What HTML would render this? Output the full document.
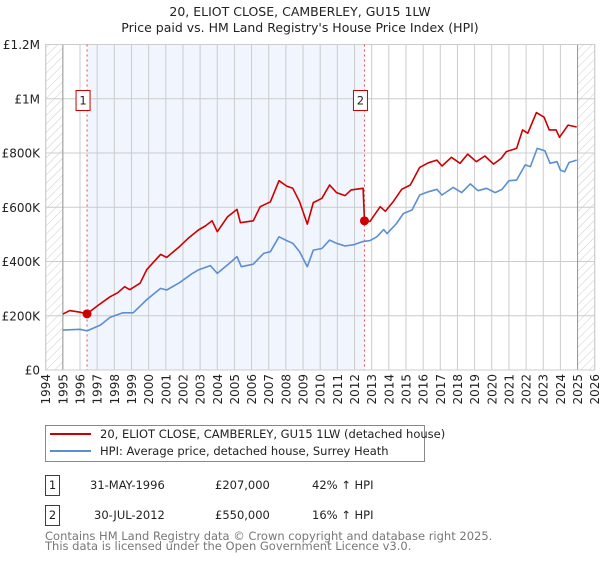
<!DOCTYPE html>
<html><head><meta charset="utf-8"><style>
body{margin:0;background:#fff;font-family:"DejaVu Sans","Liberation Sans",sans-serif;}
svg text{font-family:"DejaVu Sans","Liberation Sans",sans-serif;}
</style></head><body>
<svg id="c" width="600" height="560" viewBox="0 0 600 560" xmlns="http://www.w3.org/2000/svg">
<defs><pattern id="hatch" width="6" height="6" patternUnits="userSpaceOnUse" patternTransform="rotate(45)"><line x1="0" y1="0" x2="0" y2="6" stroke="#ccc" stroke-width="1"/></pattern></defs>
<text x="300" y="16" text-anchor="middle" font-size="12.5" fill="#222">20, ELIOT CLOSE, CAMBERLEY, GU15 1LW</text>
<text x="300" y="32" text-anchor="middle" font-size="12.5" fill="#222">Price paid vs. HM Land Registry's House Price Index (HPI)</text>
<g id="plot"></g>
<g>
<rect x="45.5" y="425.5" width="379" height="36" fill="#fff" stroke="#888"/>
<line x1="50" y1="434" x2="91" y2="434" stroke="#cc0000" stroke-width="2"/>
<text x="100" y="438" font-size="11.5" fill="#222">20, ELIOT CLOSE, CAMBERLEY, GU15 1LW (detached house)</text>
<line x1="50" y1="451" x2="91" y2="451" stroke="#5b8fd1" stroke-width="2"/>
<text x="100" y="455" font-size="11.5" fill="#222">HPI: Average price, detached house, Surrey Heath</text>
</g>
<g font-size="11.5" fill="#222">
<rect x="45.5" y="475.5" width="14" height="20" fill="#fff" stroke="#cc0000"/>
<text x="52.5" y="489" text-anchor="middle">1</text>
<text x="90" y="489">31-MAY-1996</text>
<text x="215" y="489">£207,000</text>
<text x="312" y="489">42% ↑ HPI</text>
<rect x="45.5" y="505.5" width="14" height="20" fill="#fff" stroke="#cc0000"/>
<text x="52.5" y="519" text-anchor="middle">2</text>
<text x="94" y="519">30-JUL-2012</text>
<text x="215" y="519">£550,000</text>
<text x="312" y="519">16% ↑ HPI</text>
</g>
<text x="45" y="540" font-size="11.5" fill="#777">Contains HM Land Registry data © Crown copyright and database right 2025.</text>
<text x="45" y="550" font-size="11.5" fill="#777">This data is licensed under the Open Government Licence v3.0.</text>
</svg>
<script>
const yearTicks=[1994,1995,1996,1997,1998,1999,2000,2001,2002,2003,2004,2005,2006,2007,2008,2009,2010,2011,2012,2013,2014,2015,2016,2017,2018,2019,2020,2021,2022,2023,2024,2025,2026];
const priceTicks=[0,200000,400000,600000,800000,1000000,1200000];
const priceTickLabels=["£0","£200K","£400K","£600K","£800K","£1M","£1.2M"];
const saleDates=[1996.41,2012.58];
const salePrices=[207000,550000];
const saleLabels=["1","2"];
const redYears=[1995,1995.4,1996,1996.41,1997,1997.75,1998.2,1998.6,1998.9,1999.5,1999.9,2000.7,2001.05,2001.8,2002.3,2002.9,2003.3,2003.7,2004.0,2004.6,2005.15,2005.35,2006.1,2006.5,2007.1,2007.6,2008.05,2008.4,2008.8,2009.25,2009.6,2010.1,2010.55,2010.95,2011.45,2011.8,2012.5,2012.58,2012.9,2013.5,2013.8,2014.25,2014.75,2015.25,2015.8,2016.3,2016.8,2017.1,2017.65,2018.15,2018.6,2019.1,2019.6,2020.1,2020.55,2020.85,2021.45,2021.8,2022.1,2022.6,2023.05,2023.35,2023.75,2023.95,2024.25,2024.45,2024.95];
const redValues=[206,219,213,207,236,270,285,307,296,320,371,426,415,455,485,516,531,550,510,565,592,543,550,602,620,698,678,670,620,538,617,633,682,654,643,664,670,550,548,602,585,620,666,682,747,764,774,752,784,762,796,768,789,759,780,805,817,885,873,949,932,885,885,858,885,903,896];
const blueYears=[1995,1996,1996.41,1997.2,1997.75,1998.5,1999.1,1999.9,2000.7,2001.05,2001.8,2002.55,2002.9,2003.6,2004.0,2004.7,2005.15,2005.4,2006.1,2006.7,2007.1,2007.6,2008.05,2008.4,2008.8,2009.25,2009.6,2010.1,2010.55,2010.95,2011.45,2011.95,2012.45,2012.9,2013.3,2013.7,2013.9,2014.45,2014.85,2015.35,2015.8,2016.3,2016.8,2017.1,2017.75,2018.25,2018.75,2019.2,2019.7,2020.2,2020.6,2021.0,2021.45,2021.95,2022.25,2022.65,2023.1,2023.4,2023.8,2024.0,2024.25,2024.5,2024.95];
const blueValues=[147,150,144,166,194,211,211,260,301,295,322,356,369,385,356,393,418,381,390,430,436,491,477,467,436,381,442,448,479,467,457,462,473,477,491,518,503,540,577,590,645,657,666,645,673,654,686,661,670,654,666,698,700,756,750,817,808,762,768,737,731,765,774];

const NS="http://www.w3.org/2000/svg";
const L=45.7,R=594.7,T=44.5,B=370;
const xs=y=>L+(y-1994)*(R-L)/32;
const ys=v=>B-v*(B-T)/1200000;
const g=document.getElementById('plot');
function mk(tag,attrs,parent){const e=document.createElementNS(NS,tag);for(const k in attrs)e.setAttribute(k,attrs[k]);(parent||g).appendChild(e);return e;}
let e;
e=mk('rect',{x:xs(saleDates[0]),y:T,width:xs(saleDates[1])-xs(saleDates[0]),height:B-T,fill:'#eef3fc',opacity:0.8});


e=mk('rect',{x:L,y:T,width:xs(1995)-L,height:B-T,fill:'url(#hatch)'});


e=mk('rect',{x:xs(2025),y:T,width:R-xs(2025),height:B-T,fill:'url(#hatch)'});


yearTicks.forEach(y=>{
 e=mk('line',{x1:xs(y),x2:xs(y),y1:T,y2:B,stroke:'#ccc','stroke-width':1});
 
 
 e=mk('text',{x:0,y:0,'font-size':12,fill:'#222','text-anchor':'end',transform:`translate(${xs(y)+4.5},374) rotate(-90)`});
 e.textContent=y;
 
 
});
priceTicks.forEach((v,i)=>{
 e=mk('line',{x1:L,x2:R,y1:ys(v),y2:ys(v),stroke:'#ccc','stroke-width':1});
 
 
 e=mk('text',{x:40,y:ys(v)+4.5,'font-size':12,fill:'#222','text-anchor':'end'});
 e.textContent=priceTickLabels[i];
 
 
});
e=mk('line',{x1:xs(1995),x2:xs(1995),y1:T,y2:B,stroke:'#999','stroke-width':1});


e=mk('line',{x1:xs(2025),x2:xs(2025),y1:T,y2:B,stroke:'#999','stroke-width':1});


e=mk('rect',{x:L,y:T,width:R-L,height:B-T,fill:'none',stroke:'#ccc'});


saleDates.forEach((d,i)=>{
 e=mk('line',{x1:xs(d),x2:xs(d),y1:T,y2:B,stroke:'#e05050','stroke-width':1,'stroke-dasharray':'2,3'});
 
 
});
function path(xa,va,col,name){
 const d=xa.map((x,i)=>(i?'L':'M')+xs(x).toFixed(1)+','+ys(va[i]*1000).toFixed(1)).join('');
 e=mk('path',{d:d,fill:'none',stroke:col,'stroke-width':1.6,'stroke-linejoin':'round'});
 
 
}
path(blueYears,blueValues,'#5b8fd1','hpi-line');
path(redYears,redValues,'#cc0000','property-price-line');
saleDates.forEach((d,i)=>{
 e=mk('circle',{cx:xs(d),cy:ys(salePrices[i]),r:4.5,fill:'#cc0000'});
 
 
 e=mk('rect',{x:xs(d)-11,y:90.5,width:14,height:20,fill:'#fff',stroke:'#cc0000'});
 
 
 e=mk('text',{x:xs(d)-4,y:104.5,'font-size':11.5,fill:'#222','text-anchor':'middle'});
 e.textContent=saleLabels[i];
 
 
});
</script>
</body></html>
